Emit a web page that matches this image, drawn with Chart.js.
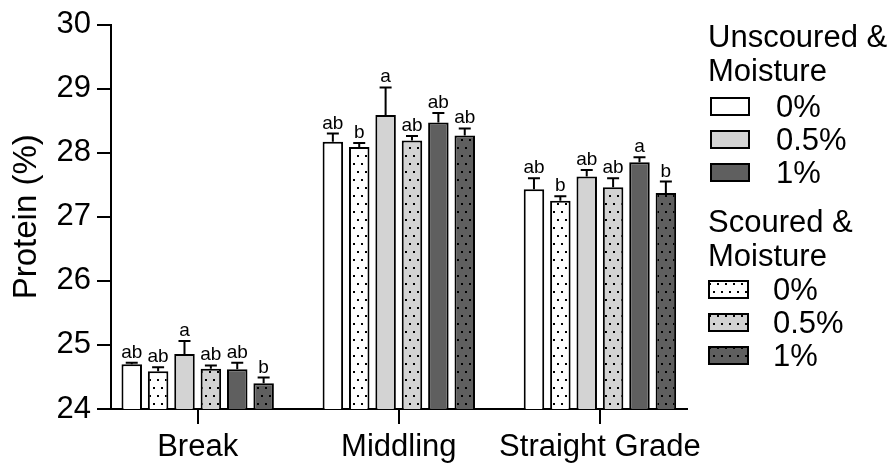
<!DOCTYPE html>
<html>
<head>
<meta charset="utf-8">
<script src="https://cdn.jsdelivr.net/npm/chart.js@4.4.1/dist/chart.umd.min.js"></script>
<style>
  html, body { margin: 0; padding: 0; background: #ffffff; }
  #wrap { width: 896px; height: 464px; }
</style>
</head>
<body>
<div id="wrap"><canvas id="c" width="896" height="464"></canvas></div>
<script>
// Fractions along the x axis
const categories = ['Break', 'Middling', 'Straight Grade'];
const moistureLabels = ['0%', '0.5%', '1%'];

// Mean protein (%) per fraction
const unscoured0  = [24.70, 28.17, 27.43];
const scoured0    = [24.59, 28.09, 27.25];
const unscoured05 = [24.86, 28.59, 27.63];
const scoured05   = [24.63, 28.19, 27.46];
const unscoured1  = [24.62, 28.47, 27.85];
const scoured1    = [24.40, 28.27, 27.37];

// Standard errors (upper whiskers)
const errU0  = [0.02, 0.13, 0.17];
const errS0  = [0.06, 0.06, 0.07];
const errU05 = [0.20, 0.43, 0.10];
const errS05 = [0.05, 0.07, 0.14];
const errU1  = [0.10, 0.15, 0.08];
const errS1  = [0.09, 0.11, 0.18];

// Significance letters
const letU0  = ['ab', 'ab', 'ab'];
const letS0  = ['ab', 'b', 'b'];
const letU05 = ['a', 'a', 'ab'];
const letS05 = ['ab', 'ab', 'ab'];
const letU1  = ['ab', 'ab', 'a'];
const letS1  = ['b', 'ab', 'b'];

const yTicks = [24, 25, 26, 27, 28, 29, 30];

const FONT = '"Liberation Sans", Arial, Helvetica, sans-serif';
const WHITE = '#ffffff';
const LIGHT = '#d3d3d3';
const DARK = '#5f5f5f';

// Dotted fill used for the scoured samples
function dotted(bg) {
  const t = document.createElement('canvas');
  t.width = 8; t.height = 16;
  const g = t.getContext('2d');
  g.fillStyle = bg;
  g.fillRect(0, 0, 8, 16);
  g.fillStyle = '#000000';
  g.fillRect(1, 3, 2, 2);
  g.fillRect(5, 11, 2, 2);
  return document.getElementById('c').getContext('2d').createPattern(t, 'repeat');
}

function series(label, group, values, errs, letters, fill) {
  return {
    label: label,
    group: group,
    data: values.map((v, i) => ({ x: i, y: v })),
    errors: errs,
    letters: letters,
    backgroundColor: fill,
    borderColor: '#000000',
    borderWidth: 2,
    borderSkipped: false
  };
}

const datasets = [
  series(moistureLabels[0], 'Unscoured', unscoured0, errU0, letU0, WHITE),
  series(moistureLabels[0], 'Scoured', scoured0, errS0, letS0, dotted(WHITE)),
  series(moistureLabels[1], 'Unscoured', unscoured05, errU05, letU05, LIGHT),
  series(moistureLabels[1], 'Scoured', scoured05, errS05, letS05, dotted(LIGHT)),
  series(moistureLabels[2], 'Unscoured', unscoured1, errU1, letU1, DARK),
  series(moistureLabels[2], 'Scoured', scoured1, errS1, letS1, dotted(DARK))
];

// Upper error whiskers and letters above each bar
const errorBars = {
  id: 'errorBars',
  afterDatasetsDraw(chart) {
    const ctx = chart.ctx;
    const y = chart.scales.y;
    ctx.save();
    chart.data.datasets.forEach((ds, di) => {
      const meta = chart.getDatasetMeta(di);
      meta.data.forEach((bar, i) => {
        const v = ds.data[i].y;
        const top = y.getPixelForValue(v + ds.errors[i]);
        ctx.strokeStyle = '#000000';
        ctx.lineWidth = 2;
        ctx.beginPath();
        ctx.moveTo(bar.x, bar.y);
        ctx.lineTo(bar.x, top);
        ctx.moveTo(bar.x - 6, top);
        ctx.lineTo(bar.x + 6, top);
        ctx.stroke();
        ctx.fillStyle = '#000000';
        ctx.font = '19px ' + FONT;
        ctx.textAlign = 'center';
        ctx.textBaseline = 'alphabetic';
        ctx.fillText(ds.letters[i], bar.x, top - 5);
      });
    });
    ctx.restore();
  }
};

// Two-block legend on the right
const groupedLegend = {
  id: 'groupedLegend',
  afterDraw(chart) {
    const ctx = chart.ctx;
    const blocks = [
      { title: ['Unscoured &', 'Moisture'], group: 'Unscoured', x: 708, y: 47, bx: 710, bw: 40, tx: 776, rowTop: 97 },
      { title: ['Scoured &', 'Moisture'], group: 'Scoured', x: 708, y: 232, bx: 708, bw: 41, tx: 773, rowTop: 280 }
    ];
    ctx.save();
    ctx.font = '31px ' + FONT;
    ctx.fillStyle = '#000000';
    ctx.textAlign = 'left';
    ctx.textBaseline = 'alphabetic';
    blocks.forEach(b => {
      ctx.fillStyle = '#000000';
      ctx.fillText(b.title[0], b.x, b.y);
      ctx.fillText(b.title[1], b.x, b.y + 34);
      const items = chart.data.datasets.filter(d => d.group === b.group);
      items.forEach((d, k) => {
        const top = b.rowTop + k * 33;
        ctx.fillStyle = d.backgroundColor;
        ctx.fillRect(b.bx, top, b.bw, 19);
        ctx.strokeStyle = '#000000';
        ctx.lineWidth = 2;
        ctx.strokeRect(b.bx + 1, top + 1, b.bw - 2, 17);
        ctx.fillStyle = '#000000';
        ctx.fillText(d.label, b.tx, top + 20);
      });
    });
    ctx.restore();
  }
};

Chart.defaults.font.family = FONT;
Chart.defaults.color = '#000000';

new Chart(document.getElementById('c'), {
  type: 'bar',
  data: { datasets: datasets },
  options: {
    responsive: false,
    animation: false,
    devicePixelRatio: 1,
    categoryPercentage: 0.787,
    barPercentage: 0.777,
    layout: { padding: { top: 24, right: 209, bottom: 0, left: 0 } },
    plugins: { legend: { display: false }, tooltip: { enabled: false } },
    scales: {
      x: {
        type: 'linear',
        offset: false,
        min: -0.431,
        max: 2.433,
        afterBuildTicks(scale) {
          scale.ticks = categories.map((c, i) => ({ value: i }));
        },
        afterFit(scale) { scale.height = 55; },
        ticks: {
          callback: (v) => categories[v],
          font: { size: 31 },
          color: '#000000',
          padding: 5,
          maxRotation: 0,
          autoSkip: false
        },
        grid: { offset: false, drawOnChartArea: false, drawTicks: true, tickLength: 15, color: '#000000', lineWidth: 2 },
        border: { display: true, color: '#000000', width: 2 }
      },
      y: {
        min: 24,
        max: 30,
        afterBuildTicks(scale) {
          scale.ticks = yTicks.map(v => ({ value: v }));
        },
        afterFit(scale) { scale.width = 111; },
        ticks: { font: { size: 31 }, color: '#000000', padding: 6 },
        grid: { drawOnChartArea: false, drawTicks: true, tickLength: 14, color: '#000000', lineWidth: 2 },
        border: { display: true, color: '#000000', width: 2 },
        title: { display: true, text: 'Protein (%)', font: { size: 33 }, color: '#000000', padding: { top: 7, bottom: 0 } }
      }
    }
  },
  plugins: [errorBars, groupedLegend]
});
</script>
</body>
</html>
